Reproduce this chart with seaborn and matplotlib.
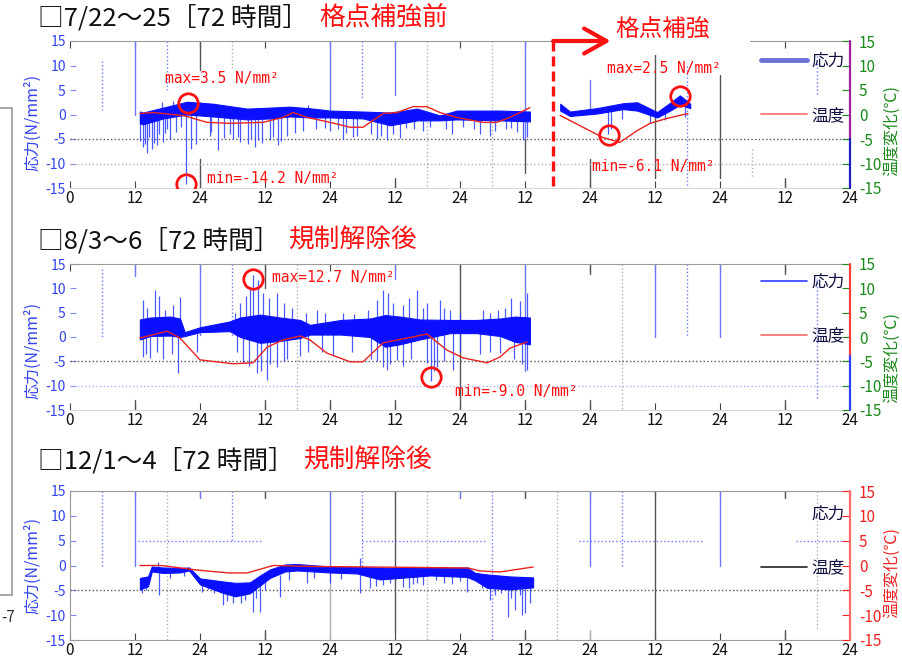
import matplotlib
matplotlib.use("Agg")
import matplotlib.pyplot as plt
import seaborn as sns
from matplotlib.lines import Line2D
from matplotlib.patches import Rectangle
from matplotlib.text import Annotation

sns.set_style("white")
plt.rcParams["font.family"] = ["Noto Sans CJK JP", "DejaVu Sans"]
plt.rcParams["axes.unicode_minus"] = False

W, H = 903, 659

# ---------------- data (x = hours in the 144 h window) ----------------
hour_ticks = [0, 12, 24, 36, 48, 60, 72, 84, 96, 108, 120, 132, 144]
hour_labels = ["0", "12", "24", "12", "24", "12", "24", "12", "24", "12", "24", "12", "24"]
value_ticks = [-15, -10, -5, 0, 5, 10, 15]

# panel 1 : 7/22-25 (before / after reinforcement)
p1a_band_h = [12.9, 13.5, 17.2, 21.6, 26.4, 32.7, 36.9, 40.6, 44.9, 48.0, 54.1, 59.1, 64.1, 68.3, 71.4, 79.4, 84.9]
p1a_band_hi = [0.6, 0.4, 1.4, 2.6, 2.2, 1.2, 1.4, 1.6, 1.2, 0.8, 0.6, 0.4, 1.2, -0.2, 0.8, 0.8, 0.6]
p1a_band_lo = [-1.8, -2.0, -0.8, 0.0, -0.4, -1.0, -0.8, -0.4, -0.6, -0.6, -0.8, -2.2, -1.2, -1.2, -1.0, -1.2, -1.4]
p1b_band_h = [90.5, 92.3, 97.3, 102.1, 104.7, 108.4, 110.8, 112.6, 114.5]
p1b_band_hi = [2.2, 0.6, 1.3, 2.3, 2.5, 0.5, 2.4, 3.9, 2.2]
p1b_band_lo = [0.8, -0.3, 0.2, 1.1, 0.8, -0.6, 0.8, 2.0, 1.3]
p1_spk_h = [13.5, 14.2, 15.1, 16.1, 17.2, 18.5, 21.4, 22.3, 23.2, 25.8, 27.3, 30.1, 31.4, 32.9, 34.2,
            34.7, 36.9, 38.4, 40.1, 43.0, 48.0, 50.4, 52.2, 53.0, 56.7, 58.5, 59.6, 60.9, 65.2, 70.5,
            75.7, 77.5, 82.5, 83.6,
            13.0, 13.8, 14.6, 15.5, 16.5, 17.6, 18.0, 19.5, 20.5, 26.0, 28.5, 29.5, 31.0, 33.5, 35.5,
            37.5, 39.0, 41.5, 45.5, 47.0, 49.5, 51.0, 55.5, 57.5, 62.0, 63.5, 66.5, 69.5, 72.5, 74.5,
            78.5, 80.5, 81.5, 84.3,
            17.0, 19.0, 24.0, 44.0, 99.3, 99.9, 101.9, 107.1, 109.8, 113.5]
p1_spk_lo = [-6.7, -7.8, -7.0, -6.3, -5.7, -4.9, -14.2, -7.0, -6.0, -4.3, -7.3, -5.0, -5.7, -6.0, -6.7,
             -5.2, -5.3, -6.3, -4.3, -3.3, -3.4, -5.0, -4.6, -4.3, -4.9, -5.3, -3.9, -4.7, -3.3, -3.9,
             -3.9, -4.3, -3.5, -5.3,
             -5.5, -6.0, -4.5, -5.8, -4.0, -3.8, -3.0, -3.5, -2.5, -3.5, -4.8, -4.0, -4.5, -5.0, -5.8,
             -4.5, -5.5, -3.8, -3.0, -2.8, -3.0, -3.8, -4.0, -4.4, -2.8, -3.0, -2.5, -3.0, -2.6, -3.0,
             -3.4, -3.0, -2.8, -4.5,
             0.0, 0.0, 0.0, 0.0, -3.9, -3.0, -1.0, -1.8, -1.2, -0.5]
p1_spk_hi = [0.0] * 68 + [2.6, 2.8, 2.6, 2.0] + [0.8, 0.8, 1.2, 0.4, 0.8, 1.5]
p1a_temp_h = [12.9, 15.3, 20.9, 25.3, 29.5, 35.6, 39.3, 41.2, 43.8, 48.0, 51.7, 54.1, 55.4, 57.8,
              60.4, 63.3, 65.9, 68.3, 71.4, 76.2, 78.8, 81.2, 84.9]
p1a_temp = [0.2, 0.4, -0.2, -1.6, -1.8, -1.6, -0.6, 0.4, -0.6, -1.6, -2.6, -2.6, -1.6, 0.2,
            0.4, 1.6, 1.6, 0.4, -0.6, -1.6, -1.6, -0.6, 1.4]
p1b_temp_h = [90.5, 94.7, 98.4, 101.5, 104.7, 107.1, 110.2, 114.1]
p1b_temp = [-0.2, -2.6, -4.7, -5.7, -3.3, -1.8, -0.8, 0.2]
p1_mark_h = [21.8, 21.4, 99.5, 112.6]
p1_mark_v = [2.4, -14.2, -4.1, 3.7]
p1_note_h = [17.5, 25.3, 99.1, 96.4]
p1_note_v = [7.3, -13.0, 9.4, -10.6]
p1_notes = ["max=3.5 N/mm²", "min=-14.2 N/mm²", "max=2.5 N/mm²", "min=-6.1 N/mm²"]
reinforce_h = 89.2

# panel 2 : 8/3-6
p2_band_h = [12.9, 14.8, 18.5, 20.3, 21.2, 24.0, 29.5, 31.4, 35.1, 38.8, 42.5, 44.3, 50.0, 55.4,
             58.2, 60.9, 64.6, 70.2, 75.0, 79.4, 82.2, 84.9]
p2_band_hi = [3.6, 4.0, 4.2, 3.8, 1.0, 2.0, 3.2, 4.0, 4.6, 4.0, 3.5, 2.5, 3.5, 3.8,
              4.5, 4.2, 3.6, 3.5, 3.5, 3.8, 4.2, 4.0]
p2_band_lo = [-0.5, 0.2, 0.3, 0.0, 0.2, 1.0, 1.2, 0.0, -1.2, -0.8, -0.2, 0.5, 0.5, 0.0,
              -2.0, -1.5, -0.5, 0.8, 0.8, 0.2, -1.0, -1.5]
p2_spk_h = [13.5, 15.7, 17.5, 20.3, 31.4, 33.2, 33.8, 34.7, 35.6, 38.2, 41.0, 45.6, 50.4, 56.7, 57.8,
            58.7, 59.6, 64.1, 65.2, 68.3, 70.2, 76.2, 80.3, 81.4, 84.4,
            14.2, 16.5, 19.0, 30.5, 32.5, 36.8, 39.5, 43.5, 47.0, 52.5, 55.0, 61.5, 62.5, 66.0,
            69.0, 72.0, 77.5, 79.0, 83.0,
            13.5, 14.8, 17.2, 19.9, 23.4, 31.9, 34.5, 36.4, 38.2, 40.1, 42.5, 48.6, 56.7, 57.8,
            58.5, 60.4, 65.9, 66.6, 67.8, 70.7, 75.7, 79.4, 84.4,
            14.0, 16.0, 18.8, 30.8, 33.0, 35.2, 37.0, 39.5, 44.0, 46.5, 52.0, 55.5, 59.0, 61.5,
            63.0, 67.2, 69.0, 72.0, 77.5, 82.0, 83.5]
p2_spk_lo = [1.0] * 44 + [-4.1, -4.3, -4.5, -7.4, -3.0, -5.3, -7.4, -8.8, -6.2, -4.5, -4.0, -4.0, -5.0, -6.2,
                          -6.8, -4.7, -5.3, -9.0, -6.2, -6.8, -3.5, -3.2, -6.8,
                          -3.5, -3.0, -3.5, -3.0, -6.0, -7.0, -5.5, -5.0, -3.0, -3.0, -3.0, -4.5, -5.5, -6.0,
                          -4.5, -7.0, -5.0, -3.0, -3.0, -4.5, -5.5]
p2_spk_hi = [7.6, 9.7, 5.5, 8.2, 7.0, 10.3, 12.7, 11.7, 9.0, 9.0, 6.0, 5.5, 5.0, 7.6, 9.7,
             9.0, 7.0, 9.7, 6.0, 7.6, 5.5, 5.5, 6.0, 8.0, 9.0,
             6.0, 8.5, 6.5, 5.0, 8.5, 8.0, 7.0, 5.0, 5.0, 4.8, 5.5, 6.5, 8.0, 7.0,
             6.0, 5.0, 5.0, 5.5, 7.5] + [1.0] * 44
p2_temp_h = [12.9, 17.9, 20.3, 24.0, 30.1, 33.8, 36.4, 39.3, 42.5, 44.3, 47.4, 51.7, 54.1, 57.8,
             64.1, 65.9, 69.6, 72.6, 77.0, 79.4, 81.2, 84.4]
p2_temp = [-0.2, 1.2, -0.2, -4.7, -5.5, -5.3, -2.1, -0.6, 0.2, -0.6, -3.3, -5.1, -5.1, -1.2,
           0.2, 0.6, -2.7, -4.3, -5.3, -4.1, -2.3, -1.0]
p2_mark_h = [33.8, 66.6]
p2_mark_v = [11.9, -8.2]
p2_note_h = [37.3, 71.1]
p2_note_v = [12.3, -11.3]
p2_notes = ["max=12.7 N/mm²", "min=-9.0 N/mm²"]

# panel 3 : 12/1-4
p3_band_h = [12.9, 14.4, 15.1, 17.2, 20.3, 22.0, 24.0, 28.2, 30.5, 33.2, 35.1, 36.9, 39.7, 41.9,
             48.0, 53.0, 57.2, 60.9, 66.5, 73.3, 74.8, 77.0, 81.2, 85.5]
p3_band_hi = [-2.5, -2.2, -0.2, -0.4, -0.5, -0.4, -2.6, -3.2, -3.5, -3.4, -2.0, -0.8, 0.2, 0.3,
              -0.2, -0.3, -0.4, -0.5, -0.5, -0.4, -1.5, -1.8, -2.2, -2.4]
p3_band_lo = [-4.8, -4.2, -1.2, -1.5, -1.4, -1.0, -3.8, -5.5, -6.2, -5.6, -4.0, -2.5, -1.2, -1.0,
              -1.4, -1.6, -2.8, -2.5, -2.0, -2.3, -3.0, -4.5, -4.8, -4.4]
p3_spk_h = [16.4, 16.2, 24.4, 28.2, 30.1, 32.3, 33.8, 35.1, 38.8, 43.8, 48.0, 53.5, 53.5, 55.4, 57.8,
            61.5, 63.3, 65.2, 73.3, 77.5, 80.9, 82.2, 83.4, 84.0, 84.9,
            13.3, 14.0, 18.5, 21.0, 25.5, 26.5, 27.5, 29.0, 31.5, 34.3, 36.0, 40.5, 45.0, 50.0,
            56.5, 59.0, 62.5, 64.0, 67.5, 69.0, 70.5, 72.0, 76.0, 78.5, 79.5, 81.5, 83.0]
p3_spk_lo = [-5.9, -1.0, -5.3, -8.0, -7.6, -7.0, -9.4, -9.4, -6.3, -3.5, -3.5, -5.5, -1.0, -4.5, -4.0,
             -4.3, -3.8, -4.0, -5.3, -7.0, -10.3, -9.0, -10.0, -9.6, -7.5,
             -5.5, -5.0, -2.5, -2.2, -4.8, -5.5, -5.0, -7.2, -7.5, -6.5, -5.0, -3.0, -2.5, -2.8,
             -4.2, -3.5, -4.5, -3.5, -3.0, -3.5, -3.8, -3.2, -4.5, -6.0, -5.5, -6.5, -6.0]
p3_spk_hi = [-1.0, 0.8, -3.0, -4.0, -4.0, -4.0, -4.0, -4.0, -2.0, -1.0, -1.0, -1.0, 1.5, -1.0, -1.0,
             -1.0, -1.0, -1.0, -1.5, -3.0, -3.0, -3.0, -3.0, -3.0, -3.0,
             -3.0, -3.0, -1.0, -1.0, -3.0, -3.0, -3.5, -4.0, -4.0, -4.0, -3.0, -1.0, -1.0, -1.0,
             -1.0, -1.0, -1.0, -1.0, -1.0, -1.0, -1.0, -1.0, -2.0, -3.0, -3.0, -3.0, -3.0]
p3_temp_h = [12.9, 16.9, 23.3, 29.3, 32.7, 35.6, 37.5, 45.0, 55.0, 65.0, 73.5, 75.7, 79.4, 85.5]
p3_temp = [0.0, 0.0, -0.9, -1.5, -1.5, -0.6, 0.0, -0.2, -0.3, -0.4, -0.5, -1.1, -1.3, -0.3]

# ---------------- colours / decoration ----------------
BAND = "#0a10ff"
SPIKE = "#2b3dff"
TEMP = "#e8231f"
ART_B = "#6c78ff"
ART_G = "#b0b0b0"
ART_K = "#555555"
RED = "#ff1010"

p1_vl = [(6, 11, 1, ART_B, ":"), (12, 15, 0, ART_B, "-"), (18, 15, 5, ART_B, ":"), (24, 15, 9, ART_K, "-"),
         (24, -9, -15, ART_K, "-"), (30, 15, 9, ART_G, ":"), (48, 15, 1, ART_B, "-"), (54, 15, 3, ART_B, ":"),
         (60, 15, 4, ART_B, "-"), (60, -13, -15, ART_K, "-"), (66, 15, -15, ART_G, ":"), (78, 15, -15, ART_G, ":"),
         (84, 15, -5, ART_B, "-"), (84, -5, -12, ART_K, "-"), (96, 7, 0.5, ART_B, "-"), (96, -9, -15, ART_K, "-"),
         (108, 15, -13, ART_K, "-"), (114, 10, -15, ART_B, ":"), (120, 8, -13, ART_K, "-"), (126, -7, -13, ART_G, ":"),
         (132, -13, -15, ART_K, "-"), (138, 12, 4, ART_B, ":")]
p1_hl = [(-5, 0, 144, ART_K, ":"), (-10, 0, 144, ART_G, ":")]
p2_vl = [(6, 14, 0, ART_B, ":"), (12, 15, 12.5, ART_B, "-"), (12, -13, -15, ART_K, "-"), (24, 15, 0.4, ART_B, "-"),
         (30, 15, 0, ART_B, ":"), (36, 15, 10, ART_K, "-"), (36, -13, -15, ART_K, "-"), (42, 15, -15, ART_G, ":"),
         (48, -13, -15, ART_K, "-"), (60, 15, 12, ART_B, "-"), (60, -13, -15, ART_K, "-"), (72, 15, -15, ART_K, "-"),
         (84, 15, -7, ART_B, "-"), (84, -13, -15, ART_K, "-"), (96, 15, 13, ART_K, "-"), (96, -13, -15, ART_K, "-"),
         (102, 15, -15, ART_G, ":"), (108, 15, 0, ART_B, "-"), (114, 15, 0, ART_B, ":"), (120, 15, 0, ART_B, "-"),
         (132, 15, 13, ART_K, "-"), (132, -13, -15, ART_K, "-"), (138, 12, -13, ART_B, ":")]
p2_hl = [(-5, 0, 144, ART_K, ":"), (-10, 0, 144, "#a8b0ff", ":")]
p3_vl = [(6, 15, 0, ART_B, ":"), (12, 15, 0, ART_B, "-"), (18, 15, -15, ART_G, ":"), (24, 15, 13.5, ART_B, "-"),
         (30, 15, 5, ART_B, ":"), (36, 15, 13.5, ART_K, "-"), (36, -13, -15, ART_K, "-"), (48, 15, 0, ART_B, "-"),
         (48, 0, -15, ART_G, "-"), (54, 15, 0, ART_B, ":"), (60, 15, -13.5, ART_K, "-"), (66, 15, -15, ART_G, ":"),
         (72, 15, 13.5, ART_B, "-"), (78, 15, -15, ART_B, ":"), (84, 15, 13.5, ART_K, "-"), (84, -13, -15, ART_K, "-"),
         (90, 15, -15, ART_G, ":"), (96, 15, 0, ART_B, "-"), (96, -13, -15, ART_G, "-"), (102, 15, 0, ART_B, ":"),
         (108, 15, -15, ART_K, "-"), (120, 15, 0, ART_B, "-"), (132, 15, 13.5, ART_K, "-"), (132, -13, -15, ART_K, "-"),
         (138, 15, -13, ART_G, ":")]
p3_hl = [(5, 12.6, 35.6, ART_B, ":"), (5, 54, 77, ART_B, ":"), (5, 94, 117, ART_B, ":"), (5, 134, 143, ART_B, ":"),
         (-5, 0, 144, ART_K, ":")]


def fx(px):
    return px / W


def fy(py):
    return 1 - py / H


fig = plt.figure(figsize=(W / 100, H / 100), dpi=100)


def make_panel(top, bottom, right_cols, label_col, left_spine):
    ax = fig.add_axes([fx(70), fy(bottom), fx(780), (bottom - top) / H])
    ax2 = ax.twinx()
    for a in (ax, ax2):
        a.set_xlim(0, 144)
        a.set_ylim(-15, 15)
        for s in a.spines.values():
            s.set_visible(False)
    ax.spines["top"].set_visible(True)
    ax.spines["top"].set_color("#9a9a9a")
    ax.spines["bottom"].set_visible(True)
    ax.spines["bottom"].set_color("#9a9a9a" if left_spine else "#d8d8d8")
    if left_spine:
        ax.spines["left"].set_visible(True)
        ax.spines["left"].set_color("#9a9a9a")
    ax.set_xticks(hour_ticks)
    ax.set_xticklabels(hour_labels)
    ax.tick_params(axis="x", direction="in", length=5, color="#444444", labelsize=11,
                   labelcolor="#111111", pad=1.5, top=True, bottom=True)
    ax.set_yticks(value_ticks)
    ax.tick_params(axis="y", direction="in", length=4, color="#8088ff", labelsize=10,
                   labelcolor="#3344ee", pad=3)
    ax2.set_yticks(value_ticks)
    ax2.tick_params(axis="y", direction="in", length=6, colors=label_col, labelsize=11, pad=6.5)
    # coloured right-hand axis line
    for (y0, y1, c) in right_cols:
        ax2.plot([144, 144], [y0, y1], color=c, lw=1.6, clip_on=False, zorder=5)
    return ax, ax2


def decorate(ax, vlines, hlines):
    for (h, y0, y1, c, ls) in vlines:
        ax.plot([h, h], [y0, y1], color=c, lw=1.0, ls=ls, zorder=1)
    for (y, x0, x1, c, ls) in hlines:
        ax.plot([x0, x1], [y, y], color=c, lw=1.0, ls=ls, zorder=1)


def stress(ax, h, lo, hi):
    ax.fill_between(h, lo, hi, color=BAND, lw=0.8, edgecolor=BAND, zorder=3)


def spikes(ax, h, lo, hi):
    ax.vlines(h, lo, hi, color=SPIKE, lw=0.9, alpha=0.85, zorder=2)


def legend(ax2, y_anchor, stress_handle, temp_handle):
    ax2.legend([stress_handle, temp_handle], ["応力", "温度"], loc="upper right",
               bbox_to_anchor=(0.9936, y_anchor), frameon=False, handlelength=2.75,
               handletextpad=0.3, labelspacing=2.2, fontsize=12, borderpad=0,
               borderaxespad=0, labelcolor="#101040")


def notes(ax2, mh, mv, nh, nv, texts):
    ax2.plot(mh, mv, "o", ms=14, mfc="none", mec=RED, mew=2, zorder=6)
    for h, v, t in zip(nh, nv, texts):
        ax2.text(h, v, t, color=RED, fontsize=10.5, family=["DejaVu Sans Mono"], ha="left", va="center")


# ---------------- panel 1 ----------------
ax, ax2 = make_panel(41, 188, [(15, -5, "#a0209a"), (-5, -15, "#2020c0")], "#1a8a1a", False)
decorate(ax, p1_vl, p1_hl)
stress(ax, p1a_band_h, p1a_band_lo, p1a_band_hi)
stress(ax, p1b_band_h, p1b_band_lo, p1b_band_hi)
spikes(ax, p1_spk_h, p1_spk_lo, p1_spk_hi)
sns.lineplot(x=p1a_temp_h, y=p1a_temp, ax=ax2, color=TEMP, lw=1.0, estimator=None, legend=False)
sns.lineplot(x=p1b_temp_h, y=p1b_temp, ax=ax2, color=TEMP, lw=1.0, estimator=None, legend=False)
notes(ax2, p1_mark_h, p1_mark_v, p1_note_h, p1_note_v, p1_notes)
ax2.plot([reinforce_h, reinforce_h], [15, -15], color=RED, lw=2.4, ls=(0, (3, 1.5)), clip_on=False, zorder=7)
legend(ax2, 0.918, Line2D([], [], color="#6a74d8", lw=3.5), Line2D([], [], color="#ff6a6a", lw=1.2))
p1_ax = ax

# white scan box behind the "格点補強" note
fig.add_artist(Rectangle((fx(573), fy(55)), fx(177), 55 / H, transform=fig.transFigure,
                         facecolor="white", edgecolor="none", zorder=5))
fig.add_artist(Annotation("", xy=(99.8, 15), xycoords=p1_ax.transData, xytext=(reinforce_h, 15),
                          textcoords=p1_ax.transData, zorder=6,
                          arrowprops=dict(arrowstyle="->,head_length=0.8,head_width=0.45",
                                          color=RED, lw=3, mutation_scale=20, shrinkA=0, shrinkB=0)))
fig.text(fx(615), fy(29), "格点補強", color=RED, fontsize=17, va="center", ha="left", zorder=7)

# ---------------- panel 2 ----------------
ax, ax2 = make_panel(264, 410, [(15, -4, "#ff4040"), (-4, -15, "#3040ff")], "#1a8a1a", False)
decorate(ax, p2_vl, p2_hl)
stress(ax, p2_band_h, p2_band_lo, p2_band_hi)
spikes(ax, p2_spk_h, p2_spk_lo, p2_spk_hi)
sns.lineplot(x=p2_temp_h, y=p2_temp, ax=ax2, color=TEMP, lw=1.0, estimator=None, legend=False)
notes(ax2, p2_mark_h, p2_mark_v, p2_note_h, p2_note_v, p2_notes)
legend(ax2, 0.932, Line2D([], [], color="#3040ff", lw=1.2), Line2D([], [], color="#ff6a6a", lw=1.2))

# ---------------- panel 3 ----------------
ax, ax2 = make_panel(491, 640, [(15, -15, "#ff6a6a")], "#ee2222", True)
decorate(ax, p3_vl, p3_hl)
stress(ax, p3_band_h, p3_band_lo, p3_band_hi)
spikes(ax, p3_spk_h, p3_spk_lo, p3_spk_hi)
sns.lineplot(x=p3_temp_h, y=p3_temp, ax=ax2, color=TEMP, lw=1.0, estimator=None, legend=False)
legend(ax2, 0.9, Line2D([], [], color="white", lw=1), Line2D([], [], color="#222222", lw=1.2))

# ---------------- titles and axis labels ----------------
titles = [("□7/22～25［72 時間］", "格点補強前", 18, 319),
          ("□8/3～6［72 時間］", "規制解除後", 241, 288),
          ("□12/1～4［72 時間］", "規制解除後", 461, 303)]
for black, red, y, xr in titles:
    fig.text(fx(38), fy(y), black, fontsize=18.5, color="#111111", va="center", ha="left")
    fig.text(fx(xr), fy(y), red, fontsize=18.5, color=RED, va="center", ha="left")

for yc, col in [(122, "#1a8a1a"), (350, "#1a8a1a"), (565, "#ee2222")]:
    fig.text(fx(33), fy(yc), "応力(N/mm²)", rotation=90, color="#3344ee", fontsize=11.5,
             va="center", ha="center")
    fig.text(fx(892), fy(yc + 8), "温度変化(℃)", rotation=90, color=col, fontsize=11.5,
             va="center", ha="center")

# scan edge on the left
fig.add_artist(Line2D([fx(12), fx(12)], [fy(108), fy(595)], color="#999999", lw=1.2))
fig.add_artist(Line2D([0, fx(12)], [fy(108), fy(108)], color="#999999", lw=1.2))
fig.add_artist(Line2D([0, fx(12)], [fy(595), fy(595)], color="#999999", lw=1.2))
fig.text(fx(1), fy(618), "-7", fontsize=11, color="#333333", va="center", ha="left")

fig.savefig("out.png", dpi=100)
